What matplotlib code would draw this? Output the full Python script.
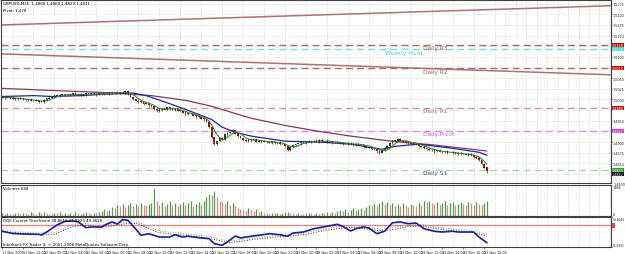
import matplotlib
matplotlib.use("Agg")
import matplotlib.pyplot as plt
import matplotlib.transforms as mtransforms
import numpy as np
import pandas as pd

symbol_line = "GBPUSD,M15  1.4868 1.4869 1.4829 1.4831"
pivot_line = "Pivot: 1.478"
volume_title = "Volumes 688"
qqe_title = "QQE Current Timeframe 38.8616 41.8923 43.4620"
copyright_line = "Interbank FX Trader 4, \u00a9 2001-2008 MetaQuotes Software Corp."

first_open = 1.5004
closes = [
    1.5005, 1.5003, 1.5006, 1.5004, 1.5002, 1.5003, 1.5001, 1.5002,
    1.5000, 1.4998, 1.5001, 1.4997, 1.4996, 1.4998, 1.4994, 1.4995,
    1.4999, 1.5002, 1.5004, 1.5007,
    1.5009, 1.5008, 1.5011, 1.5012,
    1.5010, 1.5013, 1.5011, 1.5014, 1.5012, 1.5010, 1.5013,
    1.5011, 1.5014, 1.5012, 1.5015, 1.5013, 1.5011, 1.5014, 1.5012,
    1.5014, 1.5013, 1.5016, 1.5015, 1.5017, 1.5014, 1.5018, 1.5016, 1.5020,
    1.5012, 1.5006, 1.5001, 1.4997, 1.4995, 1.4993,
    1.4990, 1.4992, 1.4986, 1.4984, 1.4978, 1.4972,
    1.4976, 1.4979, 1.4977, 1.4981,
    1.4978, 1.4976, 1.4979, 1.4974,
    1.4972, 1.4969, 1.4967,
    1.4965, 1.4966, 1.4962, 1.4960,
    1.4958, 1.4955, 1.4953,
    1.4946, 1.4935, 1.4911, 1.4895,
    1.4902, 1.4910, 1.4906, 1.4918,
    1.4921, 1.4925, 1.4928,
    1.4920, 1.4914, 1.4909, 1.4905, 1.4902,
    1.4907, 1.4904, 1.4906, 1.4901, 1.4903, 1.4900, 1.4902,
    1.4900, 1.4898, 1.4901, 1.4897, 1.4899, 1.4896, 1.4895, 1.4890,
    1.4881,
    1.4888, 1.4893, 1.4895, 1.4897, 1.4899, 1.4898, 1.4900,
    1.4902, 1.4900, 1.4903, 1.4901, 1.4904, 1.4902, 1.4900, 1.4903, 1.4901, 1.4899, 1.4900,
    1.4897, 1.4899, 1.4896, 1.4895, 1.4897, 1.4894, 1.4896, 1.4893, 1.4895, 1.4893,
    1.4890, 1.4887, 1.4889, 1.4884, 1.4883, 1.4878, 1.4874,
    1.4880, 1.4886, 1.4890, 1.4897, 1.4904, 1.4902, 1.4907,
    1.4903, 1.4901, 1.4900, 1.4898, 1.4896, 1.4897, 1.4895,
    1.4891, 1.4889, 1.4886, 1.4884, 1.4882, 1.4881,
    1.4878, 1.4880, 1.4877, 1.4876, 1.4878, 1.4875, 1.4874,
    1.4876, 1.4873, 1.4872, 1.4874, 1.4871, 1.4870, 1.4872, 1.4869,
    1.4865, 1.4862, 1.4858, 1.4848, 1.4840, 1.4832,
]

# wick lengths in pips beyond the candle body
wick_up = [int(ch) for ch in (
    "2131201321 1203122131 0231201132 2130123102 2131203122 0132130212 "
    "3120132102 3122130123 1202132130 2132012312 2031213201 3210231201 "
    "3221302132 0123122031 2130213220 1321302312 0312201321 3021320123 122031"
).replace(" ", "")]
wick_dn = [int(ch) for ch in (
    "1302132012 2130213201 3120213021 1320213012 0213201321 2031203122 "
    "1302213021 3201321302 2130123021 3021230213 1203213021 2130312021 "
    "1320213201 3021320132 0213201321 2301320213 1320231021 2031320132 213024"
).replace(" ", "")]

volumes = [
    120, 95, 140, 110, 90, 160, 130, 100, 150, 120, 105, 170, 140, 115, 180, 150, 200, 130, 110, 95,
    140, 120, 180, 100, 130, 90, 150, 110, 170, 120, 100, 140, 190, 130, 110, 160, 120, 210,
    260, 320, 240, 300, 420, 380, 520, 460, 560, 430,
    520, 600, 480, 560, 470, 610, 540, 500, 580, 620,
    1330,
    700, 520, 640, 480, 590, 700, 530, 610, 480, 560, 650, 520, 600, 700, 490, 580, 640, 530,
    720, 900, 1050, 980, 1190,
    900, 720, 640, 560, 700, 520, 600, 460, 380, 330, 300,
    260, 380, 300, 220, 340, 180, 260, 150,
    130, 100, 140, 120, 160, 110, 130, 180, 200, 150, 120, 100, 140, 110, 90, 130, 160, 120, 100,
    140, 110, 150, 130, 170, 120, 200, 160,
    220, 300, 250, 340, 200, 280, 360, 240, 320, 380, 300,
    420, 520, 460, 580, 500,
    620, 700, 580, 660,
    520, 600, 450, 560, 480, 620, 500, 440, 580, 520, 470, 600, 540,
    700, 640, 720, 600,
    560, 640, 500, 600, 700, 540, 620, 660, 520, 580, 680, 560, 500, 640, 600, 540, 660, 580, 520, 620, 688,
]
volume_max = 1468

ma_blue_idx = [0, 12, 19, 30, 38, 46, 50, 55, 57, 65, 72, 80, 84, 89, 95, 108, 121, 133, 145, 150, 159, 171, 182, 185]
ma_blue = [1.5007, 1.5009, 1.5007, 1.5009, 1.5012, 1.5014, 1.5015, 1.5009, 1.5005, 1.4988, 1.4972, 1.4953,
           1.4935, 1.4923, 1.4914, 1.4902, 1.4900, 1.4895, 1.4883, 1.4890, 1.4895, 1.4886, 1.4876, 1.4869]
ma_purple_idx = [0, 20, 40, 57, 70, 80, 89, 95, 108, 121, 133, 146, 152, 165, 185]
ma_purple = [1.5026, 1.5021, 1.5016, 1.5009, 1.4998, 1.4984, 1.4967, 1.4956, 1.4939, 1.4925, 1.4914,
             1.4904, 1.4900, 1.4893, 1.4879]

trend_x = [0, 232]
trend_upper = [1.5175, 1.5220]
trend_lower = [1.5107, 1.5058]

level_names = ["Daily R3", "Weekly Pivot", "Daily R2", "Daily R1", "Daily Pivot", "Daily S1"]
level_values = [1.5128, 1.5118, 1.5073, 1.4980, 1.4927, 1.4835]
level_line_colors = ["#a86a6a", "#7fdede", "#a86a6a", "#cf9a9a", "#e288e8", "#a6dca6"]
level_text_colors = ["#b05858", "#55cccc", "#b05858", "#c06868", "#d45ad4", "#4a4a8c"]
level_box_colors = ["#cc1010", "#40d8d8", "#cc1010", "#cc1010", "#d040d8", "#30a030"]

qqe_idx = [0, 4, 8, 14, 15, 17, 21, 24, 27, 29, 32, 34, 38, 40, 42, 44, 46, 48, 51, 53, 56, 60, 64, 66,
           69, 71, 76, 79, 81, 84, 86, 89, 91, 93, 98, 102, 106, 109, 111, 115, 119, 124, 128, 130, 133,
           135, 138, 140, 143, 146, 149, 152, 155, 158, 161, 165, 168, 172, 174, 180, 182, 185]
qqe_vals = [39.5, 35.6, 34.7, 34.1, 32.9, 38.2, 50.7, 57.2, 57.8, 56.5, 45.9, 47.1, 47.1, 52.4, 56.0, 52.4,
            60.1, 59.0, 43.6, 32.4, 35.2, 29.3, 29.3, 33.4, 29.3, 30.6, 27.6, 26.3, 17.5, 14.6, 20.5, 31.1,
            27.6, 29.3, 32.4, 35.2, 33.4, 30.6, 36.4, 38.2, 44.1, 48.3, 51.9, 48.3, 40.0, 44.1, 47.1, 45.3,
            35.2, 39.5, 54.7, 56.0, 53.0, 54.2, 44.1, 39.5, 38.2, 39.5, 38.2, 38.2, 29.3, 19.3]
trail_idx = [0, 8, 15, 20, 24, 28, 32, 36, 42, 48, 52, 56, 60, 66, 72, 78, 82, 86, 90, 96, 104, 110,
             116, 122, 128, 134, 140, 145, 150, 155, 160, 166, 172, 178, 182, 185]
trail_a = [42, 38, 36, 37, 45, 53, 53, 50, 52, 57, 56, 47, 40, 37, 34, 31, 27, 22, 24, 28, 32, 34,
           37, 43, 47, 50, 46, 43, 46, 51, 52, 47, 43, 42, 38, 33]
trail_b = [39, 36, 33, 34, 42, 49, 50, 47, 49, 54, 53, 44, 37, 34, 31, 28, 24, 19, 21, 25, 29, 31,
           34, 40, 44, 47, 43, 40, 43, 48, 49, 44, 40, 39, 35, 30]
qqe_level = 50.0
qqe_min, qqe_max = 11.5901, 64.8646

time_labels = ["11 Nov 2008", "11 Nov 22:00"] + \
    [f"12 Nov {h:02d}:00" for h in range(0, 24, 2)] + \
    [f"13 Nov {h:02d}:00" for h in range(0, 20, 2)]

W, H = 625, 255
fig = plt.figure(figsize=(W / 100, H / 100), dpi=100)
fig.patch.set_facecolor("white")


def box(top, bottom):
    return [1 / W, (H - bottom) / H, 610 / W, (bottom - top) / H]


ax = fig.add_axes(box(1, 184))
axv = fig.add_axes(box(186, 217), sharex=ax)
axq = fig.add_axes(box(218, 248), sharex=ax)

grid_col = "#c8c8c8"
frame_col = "#404040"
small = 2.8
tiny = 2.4
narrow = ["Liberation Sans Narrow", "DejaVu Sans"]

n = len(closes)
idx = np.arange(n)
c = np.array(closes)
o = np.r_[first_open, c[:-1]]
hi = np.maximum(o, c) + np.array(wick_up) * 0.0001
lo = np.minimum(o, c) - np.array(wick_dn) * 0.0001
ccol = np.where(c >= o, "#1c3c1c", "#8b1212")

for a in (ax, axv, axq):
    a.set_facecolor("white")
    for s in a.spines.values():
        s.set_color(frame_col)
        s.set_linewidth(0.8)
    a.set_xticks(np.arange(4, 233, 4), minor=True)
    a.grid(True, which="minor", axis="x", color=grid_col, ls=":", lw=0.5)
    a.yaxis.tick_right()
    a.tick_params(axis="y", which="both", length=1.0, width=0.4, labelsize=tiny, pad=0.4, colors="#202020")
    a.tick_params(axis="x", which="minor", length=0)

ax.set_xlim(-0.4, 232.4)

# main price pane; price labels hidden where a level box sits on top of them
ax.set_ylim(1.48038, 1.52336)
ticks = np.arange(1.4825, 1.5226, 0.0025)
boxed = level_values + [c[-1]]
ax.set_yticks(ticks)
ax.set_yticklabels(["" if min(abs(t - b) for b in boxed) < 0.0008 else f"{t:.4f}" for t in ticks],
                   family=narrow)
ax.grid(True, axis="y", color=grid_col, ls=":", lw=0.5)

ax.plot(trend_x, trend_upper, color="#b07070", lw=1.1)
ax.plot(trend_x, trend_lower, color="#b07070", lw=1.1)

for name, val, lc, tc in zip(level_names, level_values, level_line_colors, level_text_colors):
    ax.axhline(val, color=lc, lw=1.0, ls=(0, (5, 3)))
    if name == "Weekly Pivot":
        ax.text(160.6, val - 0.0001, name, color=tc, fontsize=4.2, ha="right", va="top")
    else:
        ax.text(160.8, val - 0.0001, name, color=tc, fontsize=4.2, ha="left", va="top")

ax.plot(ma_purple_idx, ma_purple, color="#8a3468", lw=0.9)
ax.plot(ma_blue_idx, ma_blue, color="#2424a8", lw=0.9)
ma_fast = pd.Series(c).rolling(5, min_periods=1).mean()
ax.plot(idx, ma_fast, color="#2f962f", lw=0.8)

ax.vlines(idx, lo, hi, colors=ccol, lw=0.5)
ax.bar(idx, np.abs(c - o) + 0.00004, bottom=np.minimum(o, c), width=0.65, color=ccol, lw=0)

blend = mtransforms.blended_transform_factory(ax.transAxes, ax.transData)
for val, bc in zip(level_values, level_box_colors):
    ax.text(1.0015, val, f"{val:.4f}", transform=blend, fontsize=tiny, color="white", family=narrow,
            va="center", ha="left", bbox=dict(facecolor=bc, edgecolor="none", pad=0.0))
ax.text(1.0015, c[-1] - 0.0006, f"{c[-1]:.4f}", transform=blend, fontsize=tiny, color="white",
        family=narrow, va="center", ha="left", bbox=dict(facecolor="black", edgecolor="none", pad=0.0))
ax.text(1.004, 1.4801, "1.4800", transform=blend, fontsize=tiny, va="center", ha="left",
        family=narrow, color="#202020", clip_on=False)

ax.text(0.004, 0.995, symbol_line, transform=ax.transAxes, fontsize=small, va="top", ha="left")
ax.text(0.004, 0.955, pivot_line, transform=ax.transAxes, fontsize=small, va="top", ha="left")
ax.tick_params(axis="x", which="major", length=0, labelbottom=False)

# volume pane
v = np.array(volumes)
vup = np.r_[True, v[1:] > v[:-1]]
axv.vlines(idx, 0, v, colors=np.where(vup, "#4e9e4e", "#d48a8a"), lw=0.9)
axv.set_ylim(0, volume_max)
axv.set_yticks([0, volume_max])
vlabels = axv.set_yticklabels(["0", str(volume_max)], family=narrow)
vlabels[0].set_va("bottom")
vlabels[1].set_va("top")
axv.text(0.004, 0.97, volume_title, transform=axv.transAxes, fontsize=small, va="top", ha="left")
axv.tick_params(axis="x", which="major", length=0, labelbottom=False)

# QQE pane
axq.set_ylim(qqe_min, qqe_max)
axq.set_yticks([qqe_min, qqe_max])
qlabels = axq.set_yticklabels([f"{qqe_min:.4f}", f"{qqe_max:.4f}"], family=narrow, fontsize=2.1)
qlabels[0].set_va("bottom")
qlabels[1].set_va("top")
axq.tick_params(axis="y", pad=0.2)
axq.axhline(qqe_level, color="#e48a8a", lw=1.0)
axq.plot(trail_idx, trail_a, color="#9a9a9a", lw=0.7, ls=":")
axq.plot(trail_idx, trail_b, color="#383838", lw=0.7, ls=":")
axq.plot(qqe_idx, qqe_vals, color="#1c1c9c", lw=1.2)
blq = mtransforms.blended_transform_factory(axq.transAxes, axq.transData)
axq.text(1.003, qqe_level, "  ", transform=blq, fontsize=tiny, va="center",
         bbox=dict(facecolor="#e05050", edgecolor="none", pad=0.3))
axq.text(0.004, 0.97, qqe_title, transform=axq.transAxes, fontsize=small, va="top", ha="left")
axq.text(0.004, 0.04, copyright_line, transform=axq.transAxes, fontsize=small, va="bottom", ha="left")

pos = np.arange(0, n, 8)[:len(time_labels)]
axq.set_xticks(pos)
axq.set_xticklabels(time_labels[:len(pos)], fontsize=tiny, ha="left", family=narrow)
axq.tick_params(axis="x", which="major", length=1.5, width=0.4, pad=0.8, colors="#202020")

fig.savefig("out.png", dpi=100, facecolor="white")
